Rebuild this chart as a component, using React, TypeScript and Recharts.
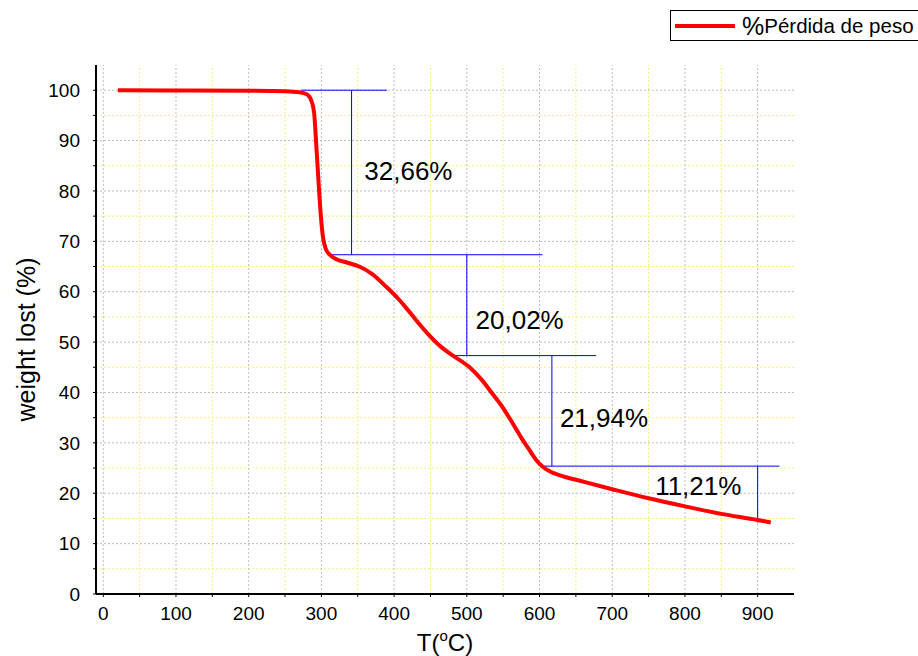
import React from 'react';
import {
  LineChart,
  Line,
  XAxis,
  YAxis,
  ReferenceLine,
  ReferenceDot,
  Legend,
} from 'recharts';

// ---- Data ----
const temperature = [
  20, 100, 200, 250, 270, 280, 286, 290, 293, 296, 299, 302, 306, 312, 320, 335, 352, 370, 389, 405,
  416, 430, 448, 465, 480, 503, 520, 535, 550, 563, 575, 586, 596, 604, 616, 627, 660, 700, 750,
  800, 850, 900, 918,
];
const weightLost = [
  100, 99.95, 99.9, 99.8, 99.6, 99.2, 98.0, 95.5, 89, 82, 75.5, 71, 68.5, 67.3, 66.5, 65.8, 65, 63.5,
  61, 58.7, 56.9, 54.4, 51.4, 49, 47.4, 45.1, 42.6, 39.8, 36.9, 33.9, 31, 28.6, 26.5, 25.3, 24.2,
  23.6, 22.3, 20.8, 19.0, 17.4, 15.9, 14.7, 14.2,
];

const xTicks = [0, 50, 100, 150, 200, 250, 300, 350, 400, 450, 500, 550, 600, 650, 700, 750, 800, 850, 900];
const xMajor = [0, 100, 200, 300, 400, 500, 600, 700, 800, 900];
const xMinor = [50, 150, 250, 350, 450, 550, 650, 750, 850];
const yTicks = [0, 5, 10, 15, 20, 25, 30, 35, 40, 45, 50, 55, 60, 65, 70, 75, 80, 85, 90, 95, 100];
const yMajor = [10, 20, 30, 40, 50, 60, 70, 80, 90, 100];
const yMinor = [5, 15, 25, 35, 45, 55, 65, 75, 85, 95];

// step annotation
const stepLevels = [100, 67.34, 47.32, 25.38, 14.17];
const shelfFrom = [272, 315, 483, 601];
const shelfTo = [390, 604, 678, 930];
const dropX = [341.5, 500, 617, 900];
const stepLabels = ['32,66%', '20,02%', '21,94%', '11,21%'];
const labelX = [359, 512, 628, 759];
const labelY = [84, 54.4, 34.9, 21.4];

const seriesName = '%Pérdida de peso';

const data = temperature.map((t, i) => ({ t, w: weightLost[i] }));

const FONT = '"Liberation Sans", Arial, sans-serif';

const LegendBox = (props: any) => {
  const entry = props.payload && props.payload[0];
  const name: string = entry ? String(entry.value) : seriesName;
  return (
    <div
      style={{
        border: '1px solid #000',
        width: 249,
        height: 31,
        boxSizing: 'border-box',
        display: 'flex',
        alignItems: 'center',
        fontFamily: FONT,
        background: '#fff',
        color: '#000',
        whiteSpace: 'nowrap',
        overflow: 'hidden',
      }}
    >
      <svg width={67} height={8} style={{ marginLeft: 4 }}>
        <line x1={0} y1={4} x2={60} y2={4} stroke="#ff0000" strokeWidth={4} />
      </svg>
      <span style={{ fontSize: 25, lineHeight: '26px' }}>{name.slice(0, 1)}</span>
      <span style={{ fontSize: 20.5, lineHeight: '26px' }}>{name.slice(1)}</span>
    </div>
  );
};

const XTitle = (props: any) => {
  const vb = props.viewBox || { x: 96, width: 698, y: 594 };
  const cx = vb.x + vb.width / 2;
  return (
    <text x={cx} y={651} textAnchor="middle" fontFamily={FONT} fontSize={24} fill="#000">
      T(
      <tspan fontSize={15} dy={-10}>o</tspan>
      <tspan dy={10}>C)</tspan>
    </text>
  );
};

const YTitle = (props: any) => {
  const vb = props.viewBox || { y: 65, height: 529 };
  const cy = vb.y + vb.height / 2 + 10;
  return (
    <text
      x={26}
      y={cy}
      transform={`rotate(-90 26 ${cy})`}
      textAnchor="middle"
      dominantBaseline="central"
      fontFamily={FONT}
      fontSize={25}
      fill="#000"
    >
      weight lost (%)
    </text>
  );
};

export default function App() {
  const tickStyle = { fontSize: 19, fill: '#000', fontFamily: FONT };
  return (
    <div style={{ position: 'absolute', left: 0, top: 0, background: '#fff' }}>
      <LineChart
        width={918}
        height={656}
        data={data}
        margin={{ top: 65, right: 124, bottom: 0, left: 0 }}
      >
        <XAxis
          dataKey="t"
          type="number"
          domain={[-10, 950]}
          allowDataOverflow
          ticks={xTicks}
          interval={0}
          tickFormatter={(v: number) => (v % 100 === 0 ? String(v) : '')}
          tick={tickStyle}
          tickSize={3}
          tickMargin={10}
          height={62}
          axisLine={{ stroke: '#000', strokeWidth: 2 }}
          tickLine={{ stroke: '#000' }}
          label={<XTitle />}
        />
        <XAxis
          xAxisId="top"
          orientation="top"
          dataKey="t"
          type="number"
          domain={[-10, 950]}
          allowDataOverflow
          ticks={xTicks}
          interval={0}
          tickFormatter={() => ''}
          tickSize={3}
          height={0}
          axisLine={{ stroke: '#000', strokeWidth: 2 }}
          tickLine={{ stroke: '#000' }}
        />
        <YAxis
          type="number"
          domain={[0, 105]}
          allowDataOverflow
          ticks={yTicks}
          interval={0}
          tickFormatter={(v: number) => (v % 10 === 0 ? String(v) : '')}
          tick={tickStyle}
          tickSize={3}
          tickMargin={13}
          width={96}
          axisLine={{ stroke: '#000', strokeWidth: 2 }}
          tickLine={{ stroke: '#000' }}
          label={<YTitle />}
        />
        <YAxis
          yAxisId="right"
          orientation="right"
          type="number"
          domain={[0, 105]}
          allowDataOverflow
          ticks={yTicks}
          interval={0}
          tickFormatter={() => ''}
          tickSize={3}
          width={0}
          axisLine={{ stroke: '#000', strokeWidth: 2 }}
          tickLine={{ stroke: '#000' }}
        />

        {xMinor.map((v) => (
          <ReferenceLine key={`xm${v}`} x={v} stroke="#f2f27a" strokeDasharray="2 2" strokeWidth={1} />
        ))}
        {yMinor.map((v) => (
          <ReferenceLine key={`ym${v}`} y={v} stroke="#f2f27a" strokeDasharray="2 2" strokeWidth={1} />
        ))}
        {xMajor.map((v) => (
          <ReferenceLine key={`xM${v}`} x={v} stroke="#bdbdbd" strokeDasharray="2 2" strokeWidth={1} />
        ))}
        {yMajor.map((v) => (
          <ReferenceLine key={`yM${v}`} y={v} stroke="#bdbdbd" strokeDasharray="2 2" strokeWidth={1} />
        ))}

        {shelfFrom.map((x0, i) => (
          <ReferenceLine
            key={`sh${i}`}
            segment={[
              { x: x0, y: stepLevels[i] },
              { x: shelfTo[i], y: stepLevels[i] },
            ]}
            stroke="#0000ff"
            strokeWidth={1}
          />
        ))}
        {dropX.map((x, i) => (
          <ReferenceLine
            key={`dr${i}`}
            segment={[
              { x, y: stepLevels[i] },
              { x, y: stepLevels[i + 1] },
            ]}
            stroke="#0000ff"
            strokeWidth={1}
          />
        ))}
        {stepLabels.map((txt, i) => (
          <ReferenceDot
            key={`lb${i}`}
            x={labelX[i]}
            y={labelY[i]}
            r={0}
            fill="none"
            stroke="none"
            label={{ value: txt, position: 'right', offset: 0, fontSize: 26, fill: '#000', fontFamily: FONT }}
          />
        ))}

        <Line
          dataKey="w"
          name={seriesName}
          type="monotone"
          stroke="#ff0000"
          strokeWidth={4}
          dot={false}
          activeDot={false}
          isAnimationActive={false}
        />
        <Legend
          layout="horizontal"
          verticalAlign="middle"
          align="center"
          content={<LegendBox />}
          wrapperStyle={{ top: 10, left: 670, width: 'auto', height: 'auto' }}
        />
      </LineChart>
    </div>
  );
}
